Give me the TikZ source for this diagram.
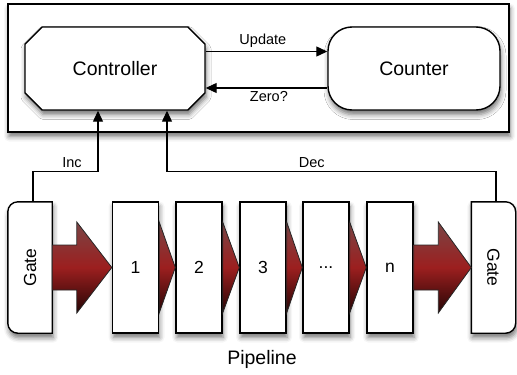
\documentclass[tikz,border=0pt]{standalone}
\usepackage{fontspec}
\setmainfont{Liberation Sans}
\usetikzlibrary{arrows.meta,shapes.misc,calc,shadows.blur}

\definecolor{pipeTop}{HTML}{7A4545}
\definecolor{pipeMid}{HTML}{9C1F1F}
\definecolor{pipeBot}{HTML}{250505}

\tikzset{
  softshadow/.style={blur shadow={shadow xshift=1pt, shadow yshift=-4.5pt,
      shadow blur radius=5pt, shadow opacity=55}},
  framebox/.style={draw=black, line width=1.3pt, fill=white, softshadow,
      minimum width=501pt, minimum height=128pt, inner sep=0pt},
  ctrlbox/.style={chamfered rectangle, chamfered rectangle xsep=10pt,
      chamfered rectangle ysep=10pt, draw=black, line width=1.4pt, fill=white,
      softshadow, minimum width=180pt, minimum height=83pt, inner sep=0pt,
      font=\fontsize{19.5}{22}\selectfont},
  cntbox/.style={rectangle, rounded corners=24pt, draw=black, line width=1.4pt,
      fill=white, softshadow, minimum width=172pt, minimum height=83pt,
      inner sep=0pt, font=\fontsize{19.5}{22}\selectfont},
  stagebox/.style={rectangle, draw=black, line width=1.4pt, fill=white,
      softshadow, minimum width=46pt, minimum height=131pt, inner sep=0pt,
      font=\fontsize{17.5}{20}\selectfont},
  gateanchor/.style={rectangle, minimum width=44pt, minimum height=131pt,
      inner sep=0pt, font=\fontsize{17.5}{20}\selectfont},
  gatebox/.style={draw=black, line width=1.4pt, fill=white, softshadow},
  flow/.style={draw=black!85, line width=0.8pt, line join=miter,
      top color=pipeTop, bottom color=pipeBot, middle color=pipeMid},
  conn/.style={draw=black, line width=1.2pt,
      -{Triangle[length=11pt, width=10pt]}},
  lbl/.style={font=\fontsize{14.5}{17}\selectfont, inner sep=2pt},
}

\begin{document}
\begin{tikzpicture}[x=1pt, y=-1pt]
  \useasboundingbox (0,0) rectangle (517,375);

  % control part
  \node[framebox] (sys) at (258.5,68) {};
  \node[ctrlbox] (ctrl) at (115,68.5) {Controller};
  \node[cntbox] (cnt) at (414,68.5) {Counter};

  \draw[conn] ($(ctrl.east)+(0,-17)$) -- ($(cnt.west)+(0,-17)$)
    node[lbl, pos=0.47, above=1pt] {Update};
  \draw[conn] ($(cnt.west)+(0,19.5)$) -- ($(ctrl.east)+(0,19.5)$)
    node[lbl, pos=0.48, below=1pt] {Zero?};

  % pipeline gates (outline drawn below) and stages
  \node[gateanchor] (gl) at (30,267.5) {};
  \node[gateanchor] (gr) at (493.5,267.5) {};

  \path[gatebox] (gl.north east) -- ($(gl.north west)+(10,0)$)
    arc[start angle=270, end angle=180, radius=10]
    -- ($(gl.south west)+(0,-10)$)
    arc[start angle=180, end angle=90, radius=10]
    -- (gl.south east) -- cycle;
  \path[gatebox] (gr.north west) -- ($(gr.north east)+(-10,0)$)
    arc[start angle=270, end angle=360, radius=10]
    -- ($(gr.south east)+(0,-10)$)
    arc[start angle=0, end angle=90, radius=10]
    -- (gr.south west) -- cycle;
  \node[font=\fontsize{17.5}{20}\selectfont] at (gl) {\rotatebox{90}{Gate}};
  \node[font=\fontsize{17.5}{20}\selectfont] at (gr) {\rotatebox{-90}{Gate}};

  \node[stagebox] (s1) at (135.5,267.5) {1};
  \node[stagebox] (s2) at (199,267.5) {2};
  \node[stagebox] (s3) at (263,267.5) {3};
  \node[stagebox] (s4) at (326,267.5) {...};
  \node[stagebox] (s5) at (390,267.5) {n};

  % small flow wedges between stages
  \foreach \a/\b in {s1/s2, s2/s3, s3/s4, s4/s5} {
    \path[flow] ($(\a.east)+(0,-45.5)$) -- (\b.west)
      -- ($(\a.east)+(0,45.5)$) -- cycle;
  }

  % big flow arrows into and out of the stages
  \path[flow] ($(gl.east)+(0,-22.5)$) -- ($(s1.west)+(-35,-22.5)$)
    -- ($(s1.west)+(-35,-45.5)$) -- (s1.west) -- ($(s1.west)+(-35,45.5)$)
    -- ($(s1.west)+(-35,22.5)$) -- ($(gl.east)+(0,22.5)$) -- cycle;
  \path[flow] ($(s5.east)+(0,-22.5)$) -- ($(gr.west)+(-33,-22.5)$)
    -- ($(gr.west)+(-33,-45.5)$) -- (gr.west) -- ($(gr.west)+(-33,45.5)$)
    -- ($(gr.west)+(-33,22.5)$) -- ($(s5.east)+(0,22.5)$) -- cycle;

  % counting signals
  \draw[conn] ($(gl.north)+(3,0)$) |- ($(ctrl.south)+(-17,61)$)
    node[lbl, pos=0.8, above=1pt] {Inc}
    -- ($(ctrl.south)+(-17,0)$);
  \draw[conn] ($(gr.north)+(2.5,0)$) |- ($(ctrl.south)+(52,61)$)
    node[lbl, pos=0.78, above=1pt] {Dec}
    -- ($(ctrl.south)+(52,0)$);

  \node[font=\fontsize{19.5}{22}\selectfont] (pipe) at (262,359) {Pipeline};
\end{tikzpicture}
\end{document}
